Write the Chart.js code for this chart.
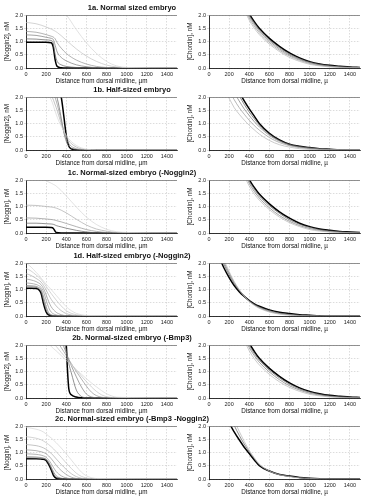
<!DOCTYPE html>
<html>
<head>
<meta charset="utf-8">
<script src="https://cdn.jsdelivr.net/npm/chart.js@4.4.0/dist/chart.umd.min.js"></script>
<style>
  body { margin: 0; background: #fff; width: 369px; height: 500px; position: relative; overflow: hidden; font-family: "Liberation Sans", Arial, sans-serif; }
  canvas { position: absolute; }
  .ttl { position: absolute; font-weight: bold; font-size: 7.5px; line-height: 8px; white-space: nowrap; transform: translateX(-50%); color: #111; z-index: 2; }
</style>
</head>
<body>
<script>
// ticks
const xTicks = [0, 200, 400, 600, 800, 1000, 1200, 1400];
const yTicks = [0, 0.5, 1.0, 1.5, 2.0];

const titles = ['1a. Normal sized embryo', '1b. Half-sized embryo', '1c. Normal-sized embryo (-Noggin2)',
  '1d. Half-sized embryo (-Noggin2)', '2b. Normal-sized embryo (-Bmp3)', '2c. Normal-sized embryo (-Bmp3 -Noggin2)'];
const leftYTitles = ['[Noggin2], nM', '[Noggin2], nM', '[Noggin], nM', '[Noggin], nM', '[Noggin2], nM', '[Noggin], nM'];
const rightYTitle = '[Chordin], nM';
const leftXTitle = 'Distance from dorsal midline, µm';
const rightXTitle = 'Distance from dorsal midline, µ';

// 1a - left (light curves first, black last)
const n1aX = [0, 100, 200, 250, 270, 290, 310, 350, 400, 500, 600, 700, 800, 900, 1000, 1500];
const n1aY = [
  [3.2, 2.95, 2.6, 2.45, 2.38, 2.32, 2.26, 2.15, 2.0, 1.45, 0.95, 0.55, 0.25, 0.08, 0.02, 0],
  [1.72, 1.67, 1.55, 1.47, 1.43, 1.39, 1.34, 1.22, 1.05, 0.72, 0.45, 0.25, 0.11, 0.04, 0.01, 0],
  [1.38, 1.35, 1.26, 1.2, 1.17, 1.1, 0.95, 0.75, 0.55, 0.3, 0.15, 0.06, 0.02, 0, 0, 0],
  [1.25, 1.23, 1.16, 1.12, 1.08, 0.85, 0.6, 0.4, 0.27, 0.12, 0.05, 0.01, 0, 0, 0, 0],
  [1.1, 1.09, 1.06, 1.04, 0.95, 0.5, 0.25, 0.12, 0.06, 0.02, 0, 0, 0, 0, 0, 0],
  [0.97, 0.97, 0.97, 0.95, 0.8, 0.3, 0.06, 0.01, 0, 0, 0, 0, 0, 0, 0, 0]
];
// 1a - right
const c1aX = [300, 350, 400, 450, 500, 600, 700, 800, 900, 1000, 1100, 1200, 1300, 1400, 1500];
const c1aY = [
  [2.6, 2.2, 1.8, 1.5, 1.26, 0.9, 0.62, 0.4, 0.25, 0.14, 0.08, 0.04, 0.02, 0.01, 0],
  [2.7, 2.3, 1.88, 1.58, 1.33, 0.96, 0.67, 0.45, 0.29, 0.17, 0.1, 0.06, 0.03, 0.01, 0.01],
  [2.8, 2.38, 1.95, 1.65, 1.4, 1.02, 0.72, 0.49, 0.32, 0.2, 0.12, 0.07, 0.04, 0.02, 0.01],
  [2.9, 2.44, 2.0, 1.7, 1.45, 1.07, 0.77, 0.53, 0.35, 0.22, 0.14, 0.08, 0.05, 0.03, 0.01],
  [3.0, 2.5, 2.05, 1.75, 1.5, 1.12, 0.82, 0.57, 0.38, 0.24, 0.15, 0.1, 0.07, 0.04, 0.02]
];
// 1b - left
const n1bX = [0, 200, 250, 300, 325, 350, 375, 400, 425, 450, 500, 550, 600, 650, 700, 1500];
const n1bY = [
  [3.5, 2.2, 1.9, 1.35, 1.1, 0.9, 0.72, 0.55, 0.42, 0.32, 0.17, 0.08, 0.03, 0.01, 0, 0],
  [3.7, 2.5, 2.1, 1.6, 1.3, 1.0, 0.72, 0.5, 0.35, 0.24, 0.11, 0.04, 0.01, 0, 0, 0],
  [3.9, 2.9, 2.4, 1.85, 1.5, 1.1, 0.7, 0.42, 0.25, 0.14, 0.05, 0.01, 0, 0, 0, 0],
  [4.0, 3.2, 2.7, 2.1, 1.7, 1.2, 0.68, 0.33, 0.15, 0.07, 0.02, 0, 0, 0, 0, 0],
  [4.0, 3.6, 3.2, 2.6, 2.3, 2.0, 1.3, 0.55, 0.15, 0.04, 0.01, 0, 0, 0, 0, 0]
];
// 1b - right
const c1bX = [100, 150, 200, 250, 300, 350, 400, 450, 500, 600, 700, 800, 900, 1000, 1100, 1200, 1300, 1500];
const c1bY = [
  [2.6, 2.25, 1.95, 1.6, 1.35, 1.13, 0.93, 0.76, 0.6, 0.36, 0.2, 0.11, 0.05, 0.02, 0.01, 0, 0, 0],
  [3.0, 2.6, 2.25, 1.9, 1.6, 1.35, 1.12, 0.92, 0.75, 0.47, 0.28, 0.16, 0.09, 0.05, 0.02, 0.01, 0, 0],
  [3.4, 2.95, 2.55, 2.17, 1.85, 1.55, 1.3, 1.07, 0.87, 0.55, 0.33, 0.19, 0.11, 0.07, 0.04, 0.02, 0.01, 0],
  [3.8, 3.3, 2.8, 2.4, 2.05, 1.72, 1.43, 1.18, 0.94, 0.6, 0.36, 0.21, 0.13, 0.08, 0.05, 0.02, 0.01, 0],
  [4.0, 3.5, 3.0, 2.6, 2.2, 1.85, 1.55, 1.28, 1.0, 0.63, 0.38, 0.22, 0.14, 0.09, 0.05, 0.03, 0.01, 0]
];
// 1c - left
const n1cX = [0, 100, 200, 250, 270, 290, 300, 350, 400, 500, 600, 700, 800, 900, 1000, 1500];
const n1cY = [
  [2.25, 2.15, 1.97, 1.88, 1.84, 1.8, 1.77, 1.6, 1.4, 0.98, 0.6, 0.32, 0.14, 0.05, 0.02, 0],
  [1.05, 1.04, 1.0, 0.98, 0.97, 0.95, 0.94, 0.86, 0.76, 0.52, 0.3, 0.15, 0.07, 0.02, 0.01, 0],
  [0.57, 0.56, 0.53, 0.51, 0.5, 0.48, 0.47, 0.42, 0.36, 0.24, 0.13, 0.06, 0.02, 0.01, 0, 0],
  [0.37, 0.37, 0.35, 0.34, 0.33, 0.3, 0.28, 0.23, 0.18, 0.1, 0.04, 0.01, 0, 0, 0, 0],
  [0.22, 0.22, 0.22, 0.21, 0.18, 0.06, 0.02, 0, 0, 0, 0, 0, 0, 0, 0, 0]
];
// 1c - right
const c1cX = [300, 350, 400, 450, 500, 600, 700, 800, 900, 1000, 1100, 1200, 1300, 1400, 1500];
const c1cY = [
  [2.55, 2.15, 1.77, 1.47, 1.24, 0.88, 0.6, 0.39, 0.24, 0.13, 0.07, 0.04, 0.02, 0.01, 0],
  [2.7, 2.28, 1.87, 1.57, 1.32, 0.95, 0.66, 0.44, 0.28, 0.17, 0.1, 0.05, 0.03, 0.01, 0],
  [2.85, 2.38, 1.95, 1.65, 1.4, 1.03, 0.74, 0.5, 0.33, 0.21, 0.13, 0.08, 0.05, 0.02, 0.01],
  [3.0, 2.48, 2.02, 1.72, 1.47, 1.1, 0.8, 0.56, 0.37, 0.24, 0.15, 0.1, 0.06, 0.04, 0.02]
];
// 1d - left
const n1dX = [0, 50, 100, 125, 150, 175, 200, 225, 250, 300, 350, 400, 450, 500, 550, 600, 1500];
const n1dY = [
  [2.0, 1.85, 1.65, 1.55, 1.43, 1.32, 1.2, 1.1, 1.0, 0.78, 0.56, 0.35, 0.2, 0.1, 0.05, 0.02, 0],
  [1.8, 1.7, 1.55, 1.47, 1.38, 1.26, 1.12, 0.98, 0.85, 0.6, 0.38, 0.2, 0.1, 0.05, 0.02, 0.01, 0],
  [1.6, 1.53, 1.42, 1.36, 1.28, 1.15, 0.98, 0.8, 0.63, 0.38, 0.2, 0.09, 0.04, 0.01, 0, 0, 0],
  [1.4, 1.36, 1.3, 1.25, 1.18, 1.03, 0.8, 0.55, 0.35, 0.14, 0.05, 0.01, 0, 0, 0, 0, 0],
  [1.25, 1.23, 1.19, 1.15, 1.08, 0.9, 0.6, 0.32, 0.15, 0.04, 0.01, 0, 0, 0, 0, 0, 0],
  [1.15, 1.14, 1.12, 1.08, 1.0, 0.72, 0.36, 0.13, 0.05, 0.01, 0, 0, 0, 0, 0, 0, 0],
  [1.1, 1.1, 1.08, 1.04, 0.93, 0.58, 0.24, 0.07, 0.02, 0, 0, 0, 0, 0, 0, 0, 0],
  [1.05, 1.05, 1.04, 1.0, 0.85, 0.45, 0.15, 0.04, 0.01, 0, 0, 0, 0, 0, 0, 0, 0]
];
// 1d - right
const c1dX = [50, 100, 150, 200, 250, 300, 350, 400, 450, 500, 600, 700, 800, 900, 1000, 1100, 1200, 1500];
const c1dY = [
  [2.9, 2.5, 2.1, 1.68, 1.3, 1.0, 0.75, 0.55, 0.4, 0.29, 0.15, 0.07, 0.03, 0.01, 0, 0, 0, 0],
  [2.9, 2.45, 2.02, 1.62, 1.27, 0.98, 0.75, 0.56, 0.42, 0.31, 0.17, 0.09, 0.05, 0.02, 0.01, 0, 0, 0],
  [2.85, 2.38, 1.93, 1.55, 1.22, 0.96, 0.75, 0.57, 0.44, 0.34, 0.2, 0.11, 0.06, 0.03, 0.01, 0, 0, 0],
  [2.8, 2.25, 1.8, 1.45, 1.15, 0.92, 0.74, 0.58, 0.46, 0.37, 0.23, 0.14, 0.09, 0.05, 0.03, 0.01, 0, 0]
];
// 2b - left
const n2bX = [0, 200, 250, 300, 350, 400, 410, 425, 450, 500, 550, 600, 650, 700, 750, 800, 850, 900, 1500];
const n2bY = [
  [3.0, 2.25, 1.95, 1.78, 1.6, 1.42, 1.38, 1.33, 1.25, 1.07, 0.9, 0.73, 0.57, 0.42, 0.28, 0.16, 0.08, 0.03, 0],
  [3.2, 2.5, 2.2, 1.95, 1.72, 1.5, 1.45, 1.38, 1.28, 1.05, 0.83, 0.62, 0.42, 0.25, 0.12, 0.05, 0.02, 0.01, 0],
  [3.4, 2.8, 2.5, 2.2, 1.9, 1.6, 1.53, 1.45, 1.3, 1.0, 0.72, 0.45, 0.22, 0.09, 0.03, 0.01, 0, 0, 0],
  [3.6, 3.0, 2.7, 2.45, 2.15, 1.7, 1.6, 1.45, 1.22, 0.8, 0.42, 0.15, 0.04, 0.01, 0, 0, 0, 0, 0],
  [3.8, 3.2, 2.95, 2.7, 2.4, 1.8, 1.6, 1.3, 0.95, 0.3, 0.06, 0.01, 0, 0, 0, 0, 0, 0, 0],
  [4.0, 3.5, 3.2, 2.9, 2.5, 2.0, 1.2, 0.35, 0.12, 0.04, 0.01, 0, 0, 0, 0, 0, 0, 0, 0]
];
// 2b - right
const c2bX = [300, 350, 400, 450, 500, 600, 700, 800, 900, 1000, 1100, 1200, 1300, 1400, 1500];
const c2bY = [
  [2.6, 2.18, 1.78, 1.48, 1.25, 0.89, 0.61, 0.4, 0.25, 0.14, 0.08, 0.04, 0.02, 0.01, 0],
  [2.75, 2.3, 1.9, 1.6, 1.35, 0.98, 0.69, 0.46, 0.3, 0.18, 0.11, 0.06, 0.03, 0.02, 0.01],
  [2.9, 2.42, 1.99, 1.68, 1.43, 1.05, 0.76, 0.52, 0.34, 0.22, 0.14, 0.08, 0.05, 0.03, 0.01],
  [3.1, 2.55, 2.08, 1.76, 1.5, 1.12, 0.82, 0.57, 0.38, 0.25, 0.16, 0.1, 0.07, 0.04, 0.02]
];
// 2c - left
const n2cX = [0, 100, 150, 175, 200, 225, 250, 275, 300, 350, 400, 450, 500, 550, 600, 650, 700, 1500];
const n2cY = [
  [1.95, 1.88, 1.82, 1.77, 1.7, 1.62, 1.55, 1.46, 1.37, 1.17, 0.95, 0.72, 0.48, 0.26, 0.12, 0.05, 0.02, 0],
  [1.6, 1.54, 1.48, 1.43, 1.37, 1.3, 1.22, 1.13, 1.03, 0.82, 0.6, 0.4, 0.22, 0.1, 0.04, 0.01, 0, 0],
  [1.3, 1.26, 1.21, 1.17, 1.12, 1.05, 0.97, 0.87, 0.76, 0.55, 0.36, 0.2, 0.09, 0.03, 0.01, 0, 0, 0],
  [1.1, 1.07, 1.03, 1.0, 0.95, 0.87, 0.77, 0.65, 0.52, 0.32, 0.17, 0.07, 0.02, 0.01, 0, 0, 0, 0],
  [0.95, 0.93, 0.9, 0.87, 0.82, 0.72, 0.58, 0.42, 0.28, 0.12, 0.04, 0.01, 0, 0, 0, 0, 0, 0],
  [0.84, 0.83, 0.81, 0.79, 0.75, 0.64, 0.46, 0.26, 0.12, 0.03, 0.01, 0, 0, 0, 0, 0, 0, 0],
  [0.8, 0.79, 0.78, 0.77, 0.73, 0.6, 0.4, 0.18, 0.06, 0.01, 0, 0, 0, 0, 0, 0, 0, 0],
  [0.76, 0.76, 0.75, 0.74, 0.7, 0.55, 0.35, 0.12, 0.03, 0.01, 0, 0, 0, 0, 0, 0, 0, 0]
];
// 2c - right
const c2cX = [100, 150, 200, 250, 300, 350, 400, 450, 500, 600, 700, 800, 900, 1000, 1100, 1200, 1500];
const c2cY = [
  [3.2, 2.9, 2.55, 2.2, 1.8, 1.42, 1.08, 0.8, 0.56, 0.3, 0.16, 0.09, 0.04, 0.02, 0.01, 0, 0],
  [3.1, 2.75, 2.38, 2.02, 1.65, 1.32, 1.03, 0.77, 0.54, 0.3, 0.17, 0.1, 0.05, 0.02, 0.01, 0, 0],
  [3.0, 2.55, 2.12, 1.78, 1.48, 1.2, 0.96, 0.72, 0.5, 0.3, 0.17, 0.11, 0.06, 0.03, 0.01, 0, 0]
];

const rowTops = [15, 97, 180, 263, 345, 426];
const panels = [
  [n1aX, n1aY, c1aX, c1aY],
  [n1bX, n1bY, c1bX, c1bY],
  [n1cX, n1cY, c1cX, c1cY],
  [n1dX, n1dY, c1dX, c1dY],
  [n2bX, n2bY, c2bX, c2bY],
  [n2cX, n2cY, c2cX, c2cY]
];

const lightGrays = ['#d6d6d6', '#c2c2c2', '#aaaaaa', '#929292', '#7a7a7a', '#626262'];
const darkGrays = ['#b4b4b4', '#969696', '#787878', '#5a5a5a'];
const fam = '"Liberation Sans", Arial, sans-serif';

function grayFor(pal, i, m) {
  if (m <= 1) return pal[Math.floor(pal.length / 2)];
  return pal[Math.round(i * (pal.length - 1) / (m - 1))];
}

function makeSets(xs, ys, pal) {
  const n = ys.length;
  return ys.map((row, i) => {
    const black = i === n - 1;
    return {
      data: xs.map((x, k) => ({ x: x, y: row[k] })),
      borderColor: black ? '#000' : grayFor(pal, i, n - 1),
      borderWidth: black ? 1.5 : 0.7,
      pointRadius: 0,
      cubicInterpolationMode: 'monotone',
      clip: 0
    };
  });
}

// solid frame line along the top of each plot
const topLine = {
  id: 'topLine',
  afterDraw(chart) {
    const a = chart.chartArea, ctx = chart.ctx;
    ctx.save();
    ctx.strokeStyle = '#777';
    ctx.lineWidth = 0.8;
    ctx.beginPath();
    ctx.moveTo(a.left, a.top + 0.5);
    ctx.lineTo(a.right, a.top + 0.5);
    ctx.stroke();
    ctx.restore();
  }
};

function drawPanel(left, top, xs, ys, pal, yTitle, xTitle) {
  const cv = document.createElement('canvas');
  cv.width = 184; cv.height = 77;
  cv.style.left = left + 'px';
  cv.style.top = (top - 5) + 'px';
  cv.style.width = '184px'; cv.style.height = '77px';
  document.body.appendChild(cv);
  new Chart(cv, {
    type: 'line',
    data: { datasets: makeSets(xs, ys, pal) },
    options: {
      responsive: false,
      animation: false,
      events: [],
      layout: { padding: { top: 5, right: 7, bottom: 2, left: 0 } },
      plugins: { legend: { display: false }, tooltip: { enabled: false } },
      scales: {
        x: {
          type: 'linear', min: 0, max: 1500,
          afterBuildTicks: s => { s.ticks = xTicks.map(v => ({ value: v })); },
          afterFit: s => { s.height = 17; },
          ticks: { font: { size: 5.5, family: fam }, color: '#222', padding: 1, maxRotation: 0, autoSkip: false, callback: v => String(v) },
          grid: { color: '#c4c4c4', lineWidth: 0.6, tickLength: 2 },
          border: { color: '#000', width: 0.8, dash: [1.5, 1.5] },
          title: { display: true, text: xTitle, font: { size: 6.3, family: fam }, color: '#111', padding: 0 }
        },
        y: {
          type: 'linear', min: 0, max: 2,
          afterBuildTicks: s => { s.ticks = yTicks.map(v => ({ value: v })); },
          afterFit: s => { s.width = 26; },
          ticks: { font: { size: 5.5, family: fam }, color: '#222', padding: 1, callback: v => v.toFixed(1) },
          grid: { color: '#c4c4c4', lineWidth: 0.6, tickLength: 2 },
          border: { color: '#000', width: 0.8, dash: [1.5, 1.5] },
          title: { display: true, text: yTitle, font: { size: 6.3, family: fam }, color: '#111', padding: { top: 3, bottom: 0 } }
        }
      }
    },
    plugins: [topLine]
  });
}

panels.forEach((p, r) => {
  const T = rowTops[r];
  drawPanel(0, T, p[0], p[1], lightGrays, leftYTitles[r], leftXTitle);
  drawPanel(183, T, p[2], p[3], darkGrays, rightYTitle, rightXTitle);
  const t = document.createElement('div');
  t.className = 'ttl';
  t.textContent = titles[r];
  t.style.left = '132px';
  t.style.top = (T - 11) + 'px';
  document.body.appendChild(t);
});
</script>
</body>
</html>
